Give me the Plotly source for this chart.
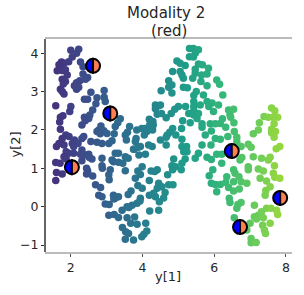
import plotly.graph_objects as go

sample_x = [2.0,2.22,2.16,2.04,1.94,1.74,1.81,1.67,1.71,1.62,1.76,1.85,1.9,1.76,1.85,1.79,2.27,2.34,2.34,2.47,2.41,2.25,2.16,2.1,2.22,2.16,1.71,1.76,1.81,2.56,2.93,2.73,2.93,2.96,2.38,2.47,1.58,2.0,1.97,2.7,2.61,2.53,2.5,2.38,2.4,2.31,1.78,1.71,1.69,1.71,2.84,2.78,2.92,3.01,2.73,2.82,3.38,3.31,3.24,3.21,3.64,3.58,3.52,3.55,3.84,3.98,4.07,4.19,4.2,4.12,4.05,3.82,3.8,3.94,4.17,3.75,1.86,1.95,1.76,1.67,1.81,2.04,2.1,2.31,2.36,2.56,2.73,2.87,3.06,3.15,2.2,2.08,1.6,
1.87,1.94,1.81,1.87,1.58,1.7,1.6,1.76,1.58,2.08,2.31,2.27,2.5,2.4,2.31,2.59,2.52,2.44,2.47,2.44,2.61,2.69,2.83,2.78,2.87,2.96,3.07,3.06,3.21,3.33,3.19,3.24,3.33,3.2,2.87,2.87,2.88,3.1,3.06,3.07,3.19,3.24,3.33,3.15,3.33,3.45,3.52,3.6,3.76,3.9,3.52,3.99,3.87,3.94,3.8,4.19,4.24,3.87,3.99,3.68,3.6,3.94,3.85,3.71,3.57,3.43,3.62,3.93,4.19,4.2,3.57,3.78,3.67,3.85,4.09,3.44,3.53,3.61,3.52,3.75,3.98,4.04,4.12,3.88,4.08,
5.31,5.42,5.56,5.47,5.31,5.42,4.96,5.05,5.19,4.84,5.05,5.1,5.14,5.56,5.67,5.47,5.47,5.65,5.84,5.8,5.4,5.63,6.07,6.15,5.8,4.73,4.82,4.73,4.52,4.82,5.14,5.25,5.5,5.43,5.7,6.24,5.43,5.8,5.94,6.12,5.61,5.85,5.43,4.36,4.5,4.45,4.36,5.0,5.2,4.9,4.8,4.41,4.53,4.66,5.98,6.4,6.54,6.44,6.46,7.6,7.69,7.39,7.51,7.77,7.65,7.26,7.67,7.23,7.09,7.6,7.6,7.71,7.67,5.29,5.43,5.56,5.43,5.52,5.33,5.66,5.66,5.12,5.09,4.84,4.76,4.69,4.93,4.5,4.66,5.1,5.75,5.92,5.89,6.03,6.17,6.23,6.32,6.55,6.03,6.17,6.38,6.56,6.63,6.63,5.66,5.91,5.1,5.23,4.66,6.75,6.95,7.03,7.83,7.73,4.27,4.3,4.28,4.29,
5.19,5.24,5.15,5.56,5.47,5.19,5.1,4.87,4.82,4.92,4.84,5.08,4.7,4.73,4.85,4.45,4.54,4.63,4.41,4.31,4.36,4.59,4.47,4.45,4.41,4.34,5.8,5.92,6.21,6.07,6.21,5.96,5.86,5.92,6.03,6.17,6.07,6.35,6.32,6.4,6.54,6.42,6.44,6.54,6.58,6.69,6.54,6.75,6.91,6.7,6.75,6.66,6.63,6.56,6.72,6.77,7.09,6.95,6.95,7.23,7.37,7.28,7.46,7.51,7.56,7.32,7.68,7.65,7.69,7.83,7.56,7.44,7.42,7.74,7.77,7.12,7.46,7.58,7.32,7.23,7.12,7.18,7.37,7.56,7.35,7.4,7.43,7.0,6.91,7.03,7.03,7.17]
sample_y = [4.08,4.1,4.0,3.9,3.78,3.77,3.74,3.7,3.61,3.54,3.55,3.57,3.43,3.32,3.26,3.2,3.77,3.65,3.46,3.37,3.32,3.28,3.23,3.15,3.11,3.06,3.06,3.0,2.94,2.98,3.03,2.84,2.85,2.74,2.8,2.8,2.63,2.61,2.48,2.68,2.52,2.39,2.3,2.33,2.24,2.13,2.37,2.33,2.21,2.02,2.1,2.0,1.98,1.91,1.96,1.9,2.29,2.19,2.09,1.9,2.09,1.94,1.87,1.74,2.0,2.04,2.04,2.28,2.13,1.96,1.87,1.78,1.7,1.57,1.61,1.5,1.87,1.83,1.78,1.65,1.61,1.65,1.74,1.78,1.83,1.7,1.68,1.65,1.65,1.72,1.65,1.57,1.57,
1.43,1.39,1.3,1.24,1.15,1.13,0.89,0.85,0.68,1.39,1.48,1.37,1.37,1.35,1.2,1.24,1.28,1.0,0.93,0.85,0.8,0.57,0.5,0.3,0.26,0.07,0.06,-0.22,-0.2,-0.28,0.3,0.23,0.26,0.2,1.26,1.07,1.0,0.96,0.83,0.7,1.17,1.39,1.39,1.22,1.16,1.13,1.3,1.26,1.5,1.35,0.94,1.04,0.93,0.84,0.74,0.68,0.93,0.55,0.48,0.41,0.32,0.22,0.09,0.04,0.0,-0.09,-0.02,0.15,0.3,-0.11,-0.29,-0.27,-0.43,-0.46,-0.43,-0.54,-0.65,-0.7,-0.85,-0.87,-0.78,-0.72,-0.63,1.55,1.37,
4.12,4.12,4.09,4.0,3.91,3.9,3.8,3.74,3.68,3.52,3.52,3.43,3.35,3.72,3.7,3.58,3.48,3.43,3.61,3.46,3.35,3.26,3.3,3.19,3.15,3.28,3.17,3.11,3.02,2.96,3.11,3.1,3.0,2.9,2.91,2.91,2.74,2.74,2.7,2.65,2.65,2.61,2.61,2.65,2.65,2.63,2.55,2.61,2.61,2.54,2.43,2.41,2.43,2.32,2.48,2.52,2.54,2.39,2.33,2.57,2.5,2.35,2.33,2.33,2.33,2.19,2.16,2.0,1.9,2.02,1.93,1.96,1.81,2.43,2.39,2.43,2.5,2.3,2.19,2.16,2.07,2.24,2.04,2.04,1.94,1.87,1.87,1.74,1.81,1.76,1.87,1.97,2.16,2.16,2.17,2.29,2.07,2.19,1.78,1.76,1.83,1.96,1.81,1.7,1.61,1.61,1.57,1.57,1.61,1.57,1.63,1.55,1.57,1.51,1.57,2.13,2.0,2.22,
1.52,1.43,1.43,1.39,1.26,1.24,1.13,1.24,1.07,1.04,0.96,0.96,0.83,0.57,0.57,0.61,0.52,0.37,0.48,0.35,0.26,0.23,0.13,-0.09,0.96,0.92,1.29,1.23,1.13,1.37,1.37,0.96,0.81,0.61,0.58,0.58,0.39,0.78,0.63,0.5,0.41,0.22,0.11,0.96,0.87,0.78,0.65,0.65,0.61,0.46,0.11,0.06,-0.04,-0.29,1.22,1.28,1.3,1.04,0.96,0.98,0.93,0.74,0.67,1.22,1.29,1.26,1.07,0.87,0.77,0.74,0.52,0.42,0.3,-0.09,-0.2,0.04,-0.04,-0.04,-0.13,-0.22,-0.26,-0.32,-0.29,-0.43,-0.48,-0.61,-0.7,-0.43,-0.61,-0.83,-0.94,-0.93]
center_x = [2.62, 3.1, 2.03, 6.49, 6.72, 7.84]
center_y = [3.67, 2.43, 1.03, 1.45, -0.53, 0.23]
x_ticks = [2, 4, 6, 8]
y_ticks = [-1, 0, 1, 2, 3, 4]
title_lines = ["Modality 2", "(red)"]
x_title = "y[1]"
y_title = "y[2]"

n = min(len(sample_x), len(sample_y))
fig = go.Figure()
fig.add_trace(go.Scatter(
    x=sample_x[:n], y=sample_y[:n], mode="markers", showlegend=False,
    marker=dict(size=7.5, color=sample_x[:n], colorscale="Viridis", cmin=0.25, cmax=9.25, line=dict(width=0)),
))

R = 7
K = R * 0.5523
left = f"M 0 {-R} C {-K} {-R} {-R} {-K} {-R} 0 C {-R} {K} {-K} {R} 0 {R} Z"
right = f"M 0 {-R} C {K} {-R} {R} {-K} {R} 0 C {R} {K} {K} {R} 0 {R} Z"
shapes = []
for cx, cy in zip(center_x, center_y):
    for path, col in ((left, "#0000ff"), (right, "#ff7f50")):
        shapes.append(dict(type="path", xref="x", yref="y", xsizemode="pixel", ysizemode="pixel",
                           xanchor=cx, yanchor=cy, path=path, fillcolor=col,
                           line=dict(color="black", width=2), layer="above"))
shapes.append(dict(type="line", xref="paper", yref="paper", x0=0, x1=0, y0=0, y1=1,
                   line=dict(color="#333333", width=1.5), layer="above"))

W, H = 304, 295
L, RR, T, B = 44.5, 292, 39, 252
PW, PH = RR - L, B - T

def px(xp):
    return (xp - L) / PW

def py(yp):
    return (B - yp) / PH

def label(text, xp, yp, size, angle=0):
    return dict(text=text, xref="paper", yref="paper", x=px(xp), y=py(yp), xanchor="center", yanchor="middle",
                showarrow=False, textangle=angle, font=dict(size=size, color="#262626"))

annotations = [
    label(title_lines[0], 165.5, 13, 15),
    label(title_lines[1], 169, 31, 15),
    label(x_title, 168, 276, 13),
    label(y_title, 14, 145, 13, -90),
]

fig.update_layout(
    width=W, height=H, autosize=False, paper_bgcolor="white", plot_bgcolor="white",
    margin=dict(l=L, r=W-RR, t=T, b=H-B, pad=0, autoexpand=False),
    font=dict(family="DejaVu Sans", color="#262626", size=12),
    shapes=shapes, annotations=annotations,
    xaxis=dict(range=[1.28, 8.17], tickvals=x_ticks, ticks="outside", ticklen=3, tickwidth=1, tickcolor="#555",
               showgrid=False, zeroline=False, showline=True, linecolor="#bbbbbb", linewidth=1.5, mirror=True,
               tickfont=dict(size=12.5)),
    yaxis=dict(range=[-1.18, 4.37], tickvals=y_ticks, ticks="outside", ticklen=3, tickwidth=1, tickcolor="#333",
               tickformat="d", showgrid=False, zeroline=False, showline=False,
               tickfont=dict(size=12.5)),
)
fig.write_html("out.html", config=dict(displayModeBar=False),
               post_script="document.body.style.margin='0';document.documentElement.style.overflow='hidden';")
